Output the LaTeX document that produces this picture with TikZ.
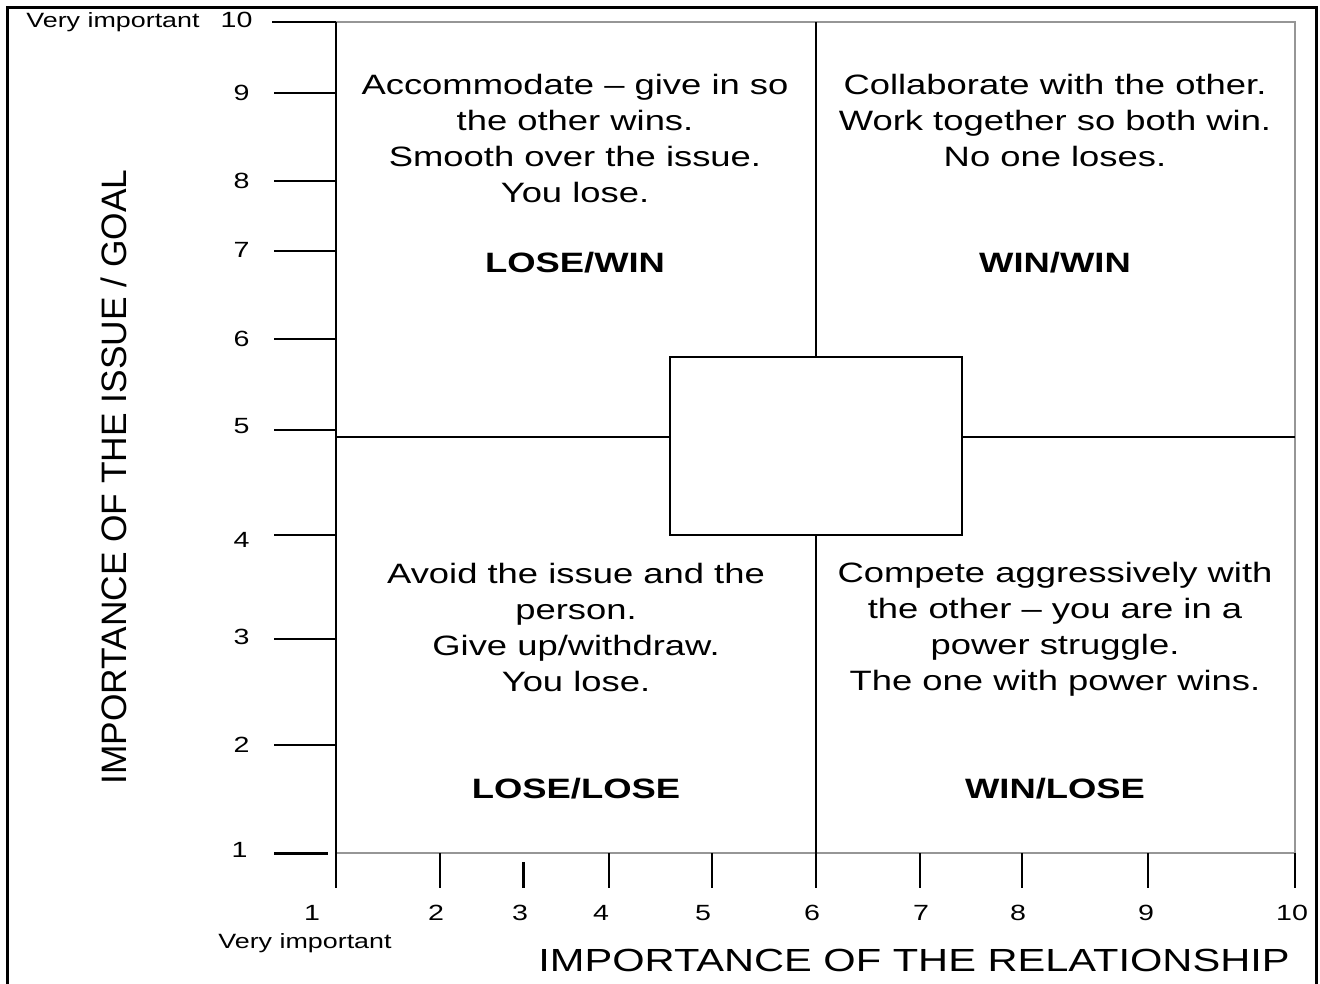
\documentclass[tikz,border=0pt]{standalone}
\usepackage{fontspec}
\setmainfont{Liberation Sans}
\newfontfamily\quadfont{Liberation Sans}[FakeStretch=1.3]

\tikzset{every picture/.style={line width=0.75pt}}
\tikzset{
  quadtext/.style={align=center, inner sep=0.75pt, font=\quadfont\fontsize{21}{27}\selectfont},
  quadtag/.style={inner sep=0.75pt, font=\quadfont\bfseries\fontsize{21}{25}\selectfont},
  ticklabel/.style={inner sep=0.75pt, font=\quadfont\fontsize{16.5}{20}\selectfont},
  endnote/.style={inner sep=0.75pt, font=\quadfont\fontsize{15.5}{18}\selectfont},
  axistitle/.style={inner sep=0.75pt, font=\quadfont\fontsize{24}{28}\selectfont},
  axis/.style={line width=1.5pt},
  rim/.style={line width=1.5pt, draw={rgb, 255:red, 150; green, 150; blue, 150}},
}

\begin{document}
\begin{tikzpicture}[x=0.75pt,y=0.75pt,yscale=-1,xscale=1]
\useasboundingbox (0,0) rectangle (1320,983);

%Frame
\draw [line width=2.25pt] (7,985) -- (7,7) -- (1316,7) -- (1316,985) ;

%Shape: Rectangle (plot rim)
\draw [rim] (336,22) -- (1295,22) -- (1295,853) -- (336,853) ;

%Shape: Rectangle [centre box]
\node (core) [draw, line width=1.5pt, minimum width=219pt, minimum height=133.5pt, inner sep=0pt] at (816,446) {};

%Coordinates for the cross
\coordinate (crossN) at (816,22);
\coordinate (crossS) at (816,888);
\coordinate (crossW) at (336,437);
\coordinate (crossE) at (1295,437);

%Straight Lines [cross]
\draw [axis] (crossN) -- (core.north) ;
\draw [axis] (core.south) -- (crossS) ;
\draw [axis] (crossW) -- (crossW -| core.west) ;
\draw [axis] (crossE -| core.east) -- (crossE) ;

%Straight Lines [y axis]
\draw [axis] (336,22) -- (336,888) ;
%Straight Lines [y ticks]
\draw [axis] (272,22) -- (336,22) ;
\draw [axis] (274,93) -- (336,93) ;
\draw [axis] (274,181) -- (336,181) ;
\draw [axis] (274,251) -- (336,251) ;
\draw [axis] (274,339) -- (336,339) ;
\draw [axis] (274,430) -- (336,430) ;
\draw [axis] (274,535) -- (336,535) ;
\draw [axis] (274,639) -- (336,639) ;
\draw [axis] (274,745) -- (336,745) ;
\draw [line width=2.25pt] (274,853) -- (328,853) ;
%Straight Lines [x ticks]
\draw [axis] (440,853) -- (440,888) ;
\draw [line width=2.25pt] (523,862) -- (523,888) ;
\draw [axis] (609,853) -- (609,888) ;
\draw [axis] (712,853) -- (712,888) ;
\draw [axis] (920,853) -- (920,888) ;
\draw [axis] (1022,853) -- (1022,888) ;
\draw [axis] (1148,853) -- (1148,888) ;
\draw [axis] (1295,853) -- (1295,888) ;

% Text Node [y tick labels]
\node (y10) [ticklabel, anchor=east] at (254,20) {10};
\node (y9) [ticklabel, anchor=east] at (251,93) {9};
\node (y8) [ticklabel, anchor=east] at (251,181) {8};
\node (y7) [ticklabel, anchor=east] at (251,250) {7};
\node (y6) [ticklabel, anchor=east] at (251,339) {6};
\node (y5) [ticklabel, anchor=east] at (251,426) {5};
\node (y4) [ticklabel, anchor=east] at (251,540) {4};
\node (y3) [ticklabel, anchor=east] at (251,637) {3};
\node (y2) [ticklabel, anchor=east] at (251,745) {2};
\node (y1) [ticklabel, anchor=east] at (249,850) {1};
\node (ytop) [endnote] at (113,22) {Very important};

% Text Node [x tick labels]
\node (x1) [ticklabel] at (312,913) {1};
\node (x2) [ticklabel] at (436,913) {2};
\node (x3) [ticklabel] at (520,913) {3};
\node (x4) [ticklabel] at (601,913) {4};
\node (x5) [ticklabel] at (703,913) {5};
\node (x6) [ticklabel] at (812,913) {6};
\node (x7) [ticklabel] at (921,913) {7};
\node (x8) [ticklabel] at (1018,913) {8};
\node (x9) [ticklabel] at (1146,913) {9};
\node (x10) [ticklabel] at (1292,913) {10};
\node (xleft) [endnote] at (305,943) {Very important};

% Text Node [axis titles]
\node (xtitle) [axistitle] at (914,960) {IMPORTANCE OF THE RELATIONSHIP};
\node (ytitle) [inner sep=0.75pt, font=\fontsize{26.5}{30}\selectfont, rotate=90] at (114,477) {IMPORTANCE OF THE ISSUE / GOAL};

% Text Node [quadrants]
\node (accommodate) [quadtext] at (575,138) {Accommodate – give in so\\the other wins.\\Smooth over the issue.\\You lose.};
\node (collaborate) [quadtext] at (1055,120) {Collaborate with the other.\\Work together so both win.\\No one loses.};
\node (avoid) [quadtext] at (576,627) {Avoid the issue and the\\person.\\Give up/withdraw.\\You lose.};
\node (compete) [quadtext] at (1055,629.5) {Compete aggressively with\\the other – you are in a\\power struggle.\\The one with power wins.};

% Text Node [outcomes]
\node (losewin) [quadtag] at (575,263) {LOSE/WIN};
\node (winwin) [quadtag] at (1055,263) {WIN/WIN};
\node (loselose) [quadtag] at (576,789) {LOSE/LOSE};
\node (winlose) [quadtag] at (1055,789) {WIN/LOSE};

\end{tikzpicture}
\end{document}
